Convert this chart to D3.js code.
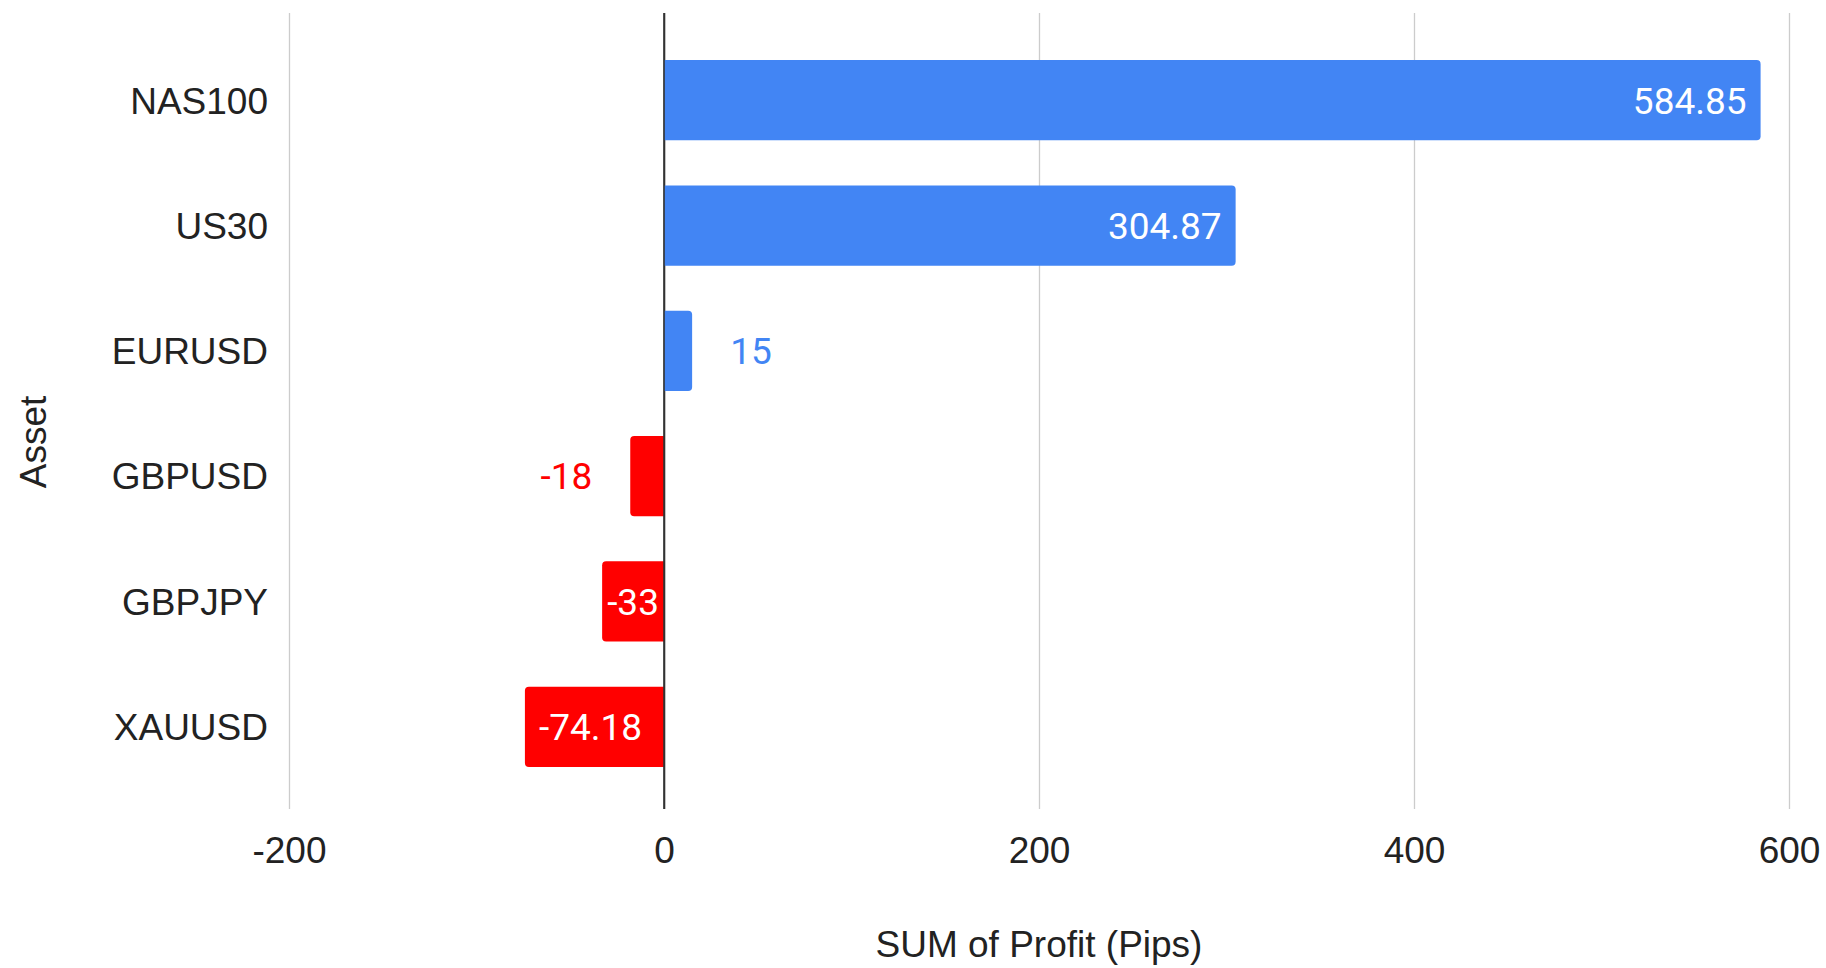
<!DOCTYPE html>
<html>
<head>
<meta charset="utf-8">
<script src="https://cdn.jsdelivr.net/npm/d3@7"></script>
<style>
  body { margin: 0; background: #fff; }
  text { font-family: Arial, "Liberation Sans", sans-serif; }
</style>
</head>
<body>
<div id="chart"></div>
<script>
// data
var assets = ["NAS100", "US30", "EURUSD", "GBPUSD", "GBPJPY", "XAUUSD"];
var profits = [584.85, 304.87, 15, -18, -33, -74.18];
var xTicks = [-200, 0, 200, 400, 600];

var W = 1826, H = 968;
var plotTop = 13, plotBottom = 809, plotLeft = 289, plotRight = 1789;

var svg = d3.select("#chart").append("svg")
    .attr("width", W)
    .attr("height", H);

var x = d3.scaleLinear()
    .domain([-200, 600])
    .range([plotLeft, plotRight]);

var y = d3.scaleBand()
    .domain(assets)
    .range([15, 812])
    .paddingInner(0.36)
    .paddingOuter(0.36);

var blue = "#4285f4", red = "#ff0000";
var labelFont = "Arial, 'Liberation Sans', sans-serif";

// gridlines + tick labels
var xAxis = svg.append("g")
    .attr("transform", "translate(0," + plotBottom + ")")
    .call(d3.axisBottom(x).tickValues(xTicks).tickSize(-(plotBottom - plotTop))
        .tickFormat(function (d) { return String(d); }));
xAxis.select(".domain").remove();
xAxis.selectAll(".tick line")
    .attr("stroke", function (d) { return d === 0 ? "#333" : "#ccc"; })
    .attr("stroke-width", function (d) { return d === 0 ? 1.6 : 1.3; });
xAxis.selectAll(".tick text")
    .attr("y", 54)
    .attr("dy", 0)
    .attr("fill", "#222")
    .style("font-size", "37px")
    .style("font-family", labelFont);

// category labels
svg.selectAll(".catLabel")
    .data(assets)
    .enter()
    .append("text")
    .attr("class", "catLabel")
    .attr("x", 268)
    .attr("y", function (d) { return y(d) + y.bandwidth() / 2; })
    .attr("dy", "0.36em")
    .attr("text-anchor", "end")
    .attr("fill", "#222")
    .style("font-size", "37px")
    .text(function (d) { return d; });

// bars with rounded far end
var r = 4;
function barPath(d, i) {
    var x0 = x(0), x1 = x(d), y0 = y(assets[i]), h = y.bandwidth();
    var s = x1 >= x0 ? 1 : -1;
    var rr = Math.min(r, Math.abs(x1 - x0));
    return "M" + x0 + "," + y0 +
        "L" + (x1 - s * rr) + "," + y0 +
        "Q" + x1 + "," + y0 + " " + x1 + "," + (y0 + rr) +
        "L" + x1 + "," + (y0 + h - rr) +
        "Q" + x1 + "," + (y0 + h) + " " + (x1 - s * rr) + "," + (y0 + h) +
        "L" + x0 + "," + (y0 + h) + "Z";
}

svg.append("g").selectAll("path")
    .data(profits)
    .enter()
    .append("path")
    .attr("d", barPath)
    .attr("fill", function (d) { return d >= 0 ? blue : red; });

// redraw the zero line on top of bars
svg.append("line")
    .attr("x1", x(0)).attr("x2", x(0))
    .attr("y1", plotTop).attr("y2", plotBottom)
    .attr("stroke", "#333")
    .attr("stroke-width", 1.6);

// value labels (Roboto in the original)
var labels = svg.append("g").selectAll("text")
    .data(profits)
    .enter()
    .append("text")
    .attr("y", function (d, i) { return y(assets[i]) + y.bandwidth() / 2; })
    .attr("dy", "0.36em")
    .style("font-size", "37px")
    .style("font-family", "Roboto, sans-serif")
    .text(function (d) { return String(d); });

labels.each(function (d) {
    var t = d3.select(this);
    var tw = this.getComputedTextLength();
    var bw = Math.abs(x(d) - x(0));
    var pos = d >= 0;
    if (tw + 28 <= bw) {
        t.attr("x", pos ? x(d) - 14 : x(d) + 14)
            .attr("text-anchor", pos ? "end" : "start")
            .attr("fill", "#fff");
    } else if (tw <= bw) {
        t.attr("x", (x(d) + x(0)) / 2)
            .attr("text-anchor", "middle")
            .attr("fill", "#fff");
    } else {
        t.attr("x", pos ? x(d) + 38 : x(d) - 38)
            .attr("text-anchor", pos ? "start" : "end")
            .attr("fill", pos ? blue : red);
    }
});

// axis titles
svg.append("text")
    .attr("x", (plotLeft + plotRight) / 2)
    .attr("y", 957)
    .attr("text-anchor", "middle")
    .attr("fill", "#222")
    .style("font-size", "37px")
    .text("SUM of Profit (Pips)");

svg.append("text")
    .attr("transform", "translate(46,442) rotate(-90)")
    .attr("text-anchor", "middle")
    .attr("fill", "#222")
    .style("font-size", "37px")
    .text("Asset");
</script>
</body>
</html>
